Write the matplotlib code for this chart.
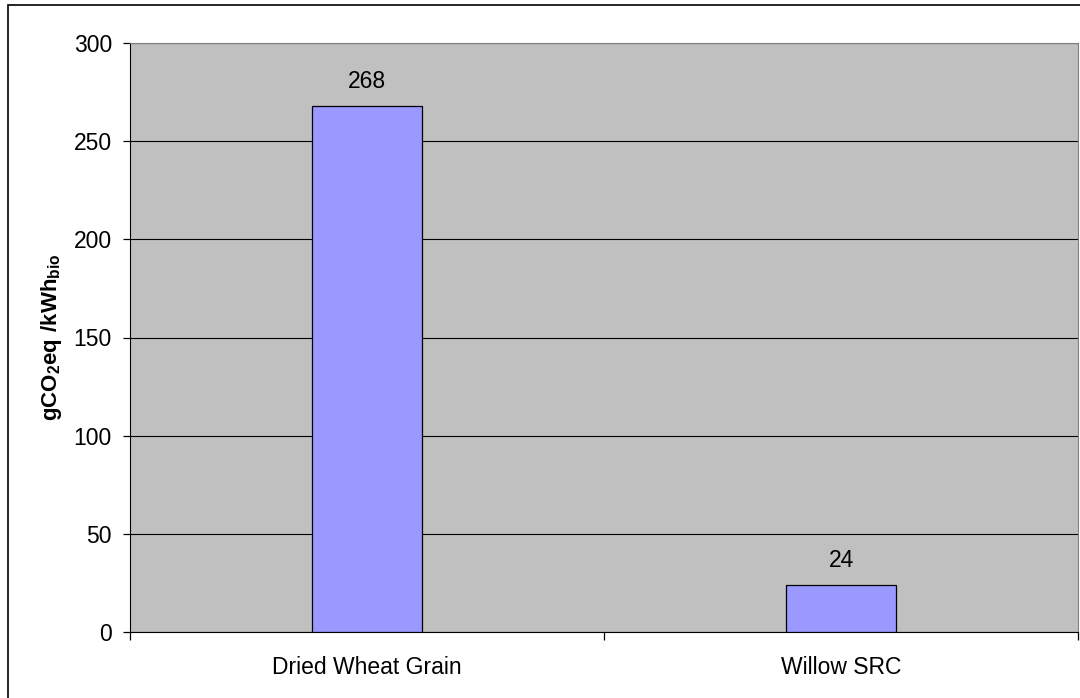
import matplotlib.pyplot as plt
from matplotlib.patches import Rectangle

plt.rcParams['font.family'] = ['Liberation Sans', 'DejaVu Sans']
plt.rcParams['mathtext.fontset'] = 'custom'
plt.rcParams['mathtext.rm'] = 'Liberation Sans'
plt.rcParams['mathtext.bf'] = 'Liberation Sans:bold'

crops = ['Dried Wheat Grain', 'Willow SRC']
emissions = [268, 24]
yticks = [0, 50, 100, 150, 200, 250, 300]

W, H = 1080, 698
fig = plt.figure(figsize=(W / 100, H / 100), dpi=100)
ax = fig.add_axes([130 / W, 1 - 632 / H, 948 / W, (632 - 43) / H])

# chart frame around the whole figure
fig.patches.append(Rectangle((8 / W, -0.1), 1.2, 1 - 5 / H + 0.1,
                             transform=fig.transFigure, fill=False,
                             edgecolor='black', linewidth=1.2))

ax.set_facecolor('#C0C0C0')
x = range(len(crops))
bars = ax.bar(x, emissions, width=0.234, color='#9999FF',
              edgecolor='black', linewidth=0.9, zorder=3)
for b, v in zip(bars, emissions):
    ax.text(b.get_x() + b.get_width() / 2, v + 6.5, str(v),
            ha='center', va='bottom', fontsize=16.5)

ax.set_xlim(-0.5, len(crops) - 0.5)
ax.set_ylim(0, 300)
ax.set_yticks(yticks)
ax.yaxis.grid(True, color='black', linewidth=0.8, zorder=0)
ax.set_axisbelow(True)

ax.set_xticks(list(x))
ax.set_xticklabels(crops, fontsize=16.5)
ax.tick_params(axis='x', length=0, pad=17)
ax.set_xticks([-0.5, 0.5, 1.5], minor=True)
ax.tick_params(axis='x', which='minor', length=6, width=0.9, direction='out')
ax.tick_params(axis='y', labelsize=16.5, length=5, width=0.9, direction='out',
               pad=8)

for side in ['top', 'right']:
    ax.spines[side].set_color('#808080')
for side in ['left', 'bottom']:
    ax.spines[side].set_color('black')

ax.set_ylabel(r'$\mathbf{gCO_2eq\ /kWh_{bio}}$', fontsize=16, labelpad=7)

fig.savefig('out.png', dpi=100)
